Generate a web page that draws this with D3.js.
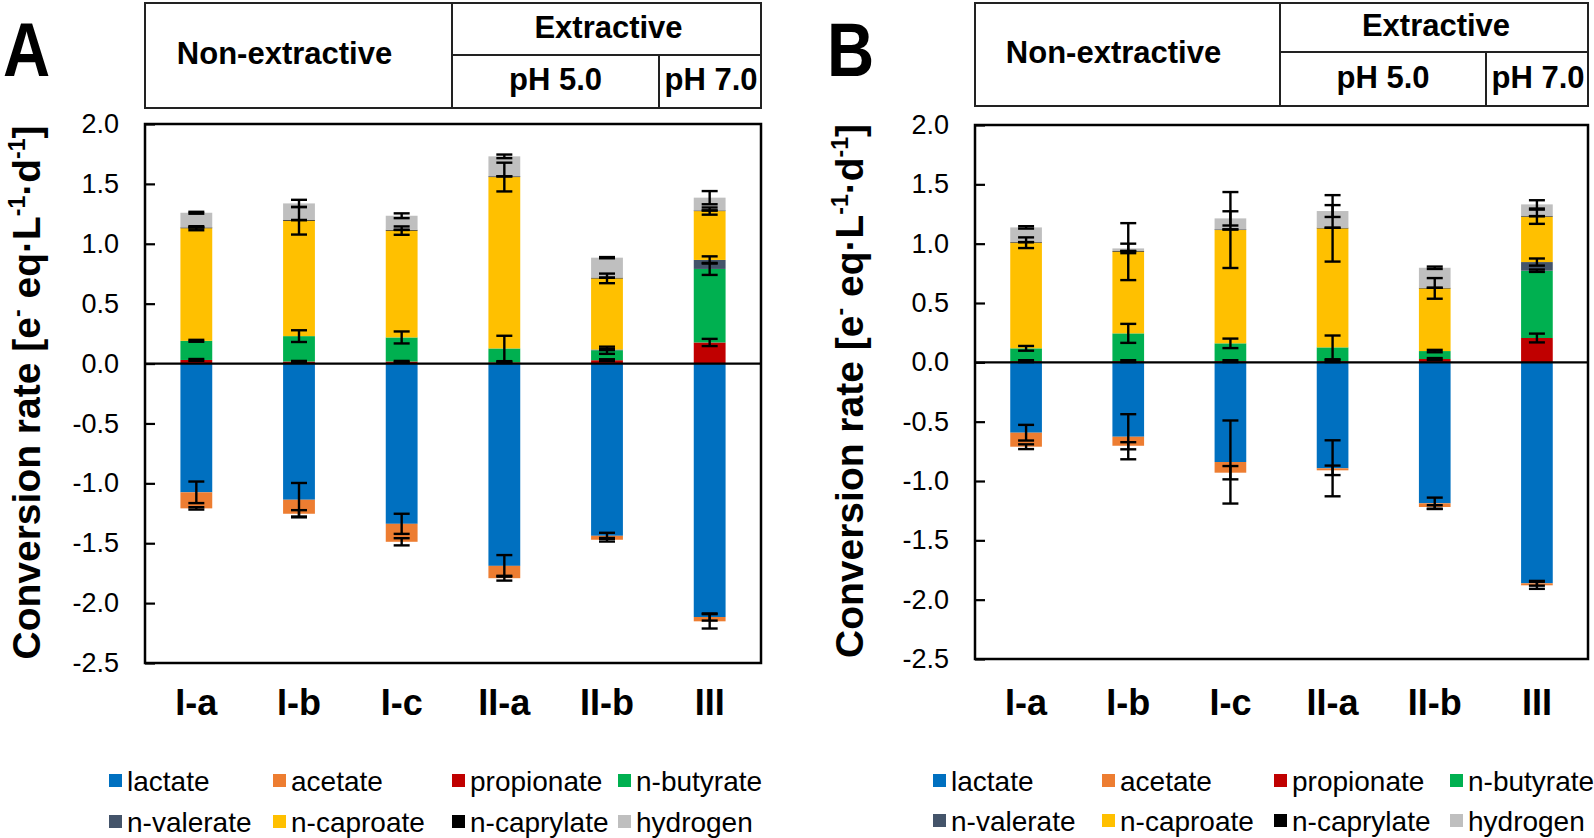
<!DOCTYPE html>
<html><head><meta charset="utf-8">
<script src="https://cdn.jsdelivr.net/npm/d3@7"></script>
<style>
html,body{margin:0;padding:0;background:#fff;}
svg{display:block;font-family:"Liberation Sans",Arial,sans-serif;}
</style></head>
<body>
<svg id="chart" width="1594" height="838"></svg>
<script>
// ---------- DATA ----------
const categories = ["I-a", "I-b", "I-c", "II-a", "II-b", "III"];
const seriesNames = ["lactate", "acetate", "propionate", "n-butyrate", "n-valerate", "n-caproate", "n-caprylate", "hydrogen"];
const seriesColors = ["#0070C0", "#ED7D31", "#C00000", "#00B050", "#44546A", "#FFC000", "#000000", "#BFBFBF"];
const yTickValues = [2.0, 1.5, 1.0, 0.5, 0.0, -0.5, -1.0, -1.5, -2.0, -2.5];
const yTickLabels = ["2.0", "1.5", "1.0", "0.5", "0.0", "-0.5", "-1.0", "-1.5", "-2.0", "-2.5"];
const headerLabels = ["Non-extractive", "Extractive", "pH 5.0", "pH 7.0"];

// Panel A values
const aLactate    = [-1.075, -1.137, -1.338, -1.689, -1.438, -2.116];
const aAcetate    = [-0.134, -0.117, -0.150, -0.103, -0.033, -0.036];
const aPropionate = [0.030, 0.017, 0.017, 0.010, 0.028, 0.176];
const aButyrate   = [0.160, 0.212, 0.201, 0.116, 0.083, 0.614];
const aValerate   = [0.000, 0.000, 0.000, 0.000, 0.006, 0.075];
const aCaproate   = [0.940, 0.963, 0.892, 1.431, 0.594, 0.408];
const aCaprylate  = [0.006, 0.006, 0.006, 0.006, 0.006, 0.005];
const aHydrogen   = [0.123, 0.139, 0.118, 0.167, 0.167, 0.107];
// Panel A error bars (±)
const aLactateErr    = [0.090, 0.140, 0.084, 0.090, 0.025, 0.030];
const aAcetateErr    = [0.010, 0.030, 0.030, 0.020, 0.015, 0.060];
const aPropionateErr = [0.008, 0.005, 0.005, 0.005, 0.008, 0.030];
const aButyrateErr   = [0.008, 0.049, 0.050, 0.106, 0.030, 0.050];
const aValerateErr   = [0.000, 0.000, 0.000, 0.000, 0.005, 0.030];
const aCaproateErr   = [0.017, 0.115, 0.035, 0.120, 0.040, 0.030];
const aCaprylateErr  = [0.000, 0.000, 0.000, 0.000, 0.000, 0.000];
const aHydrogenErr   = [0.008, 0.030, 0.020, 0.015, 0.005, 0.055];

// Panel B values
const bLactate    = [-0.593, -0.627, -0.840, -0.893, -1.188, -1.862];
const bAcetate    = [-0.118, -0.076, -0.090, -0.017, -0.031, -0.017];
const bPropionate = [0.010, 0.010, 0.010, 0.010, 0.028, 0.205];
const bButyrate   = [0.108, 0.234, 0.150, 0.116, 0.067, 0.567];
const bValerate   = [0.000, 0.000, 0.000, 0.000, 0.000, 0.073];
const bCaproate   = [0.890, 0.689, 0.955, 1.003, 0.528, 0.382];
const bCaprylate  = [0.005, 0.005, 0.005, 0.005, 0.005, 0.005];
const bHydrogen   = [0.124, 0.022, 0.093, 0.141, 0.169, 0.099];
// Panel B error bars (±)
const bLactateErr    = [0.066, 0.190, 0.350, 0.236, 0.048, 0.020];
const bAcetateErr    = [0.020, 0.030, 0.056, 0.040, 0.015, 0.030];
const bPropionateErr = [0.008, 0.008, 0.008, 0.008, 0.008, 0.037];
const bButyrateErr   = [0.020, 0.080, 0.040, 0.100, 0.010, 0.010];
const bValerateErr   = [0.000, 0.000, 0.000, 0.000, 0.000, 0.030];
const bCaproateErr   = [0.045, 0.240, 0.320, 0.280, 0.087, 0.060];
const bCaprylateErr  = [0.000, 0.000, 0.000, 0.000, 0.000, 0.000];
const bHydrogenErr   = [0.010, 0.040, 0.060, 0.050, 0.010, 0.035];

// ---------- DRAW ----------
const svg = d3.select("#chart");
svg.append("rect").attr("width", 1594).attr("height", 838).attr("fill", "#fff");

function drawPanel(cfg) {
  const g = svg.append("g");
  const values = cfg.values, errs = cfg.errors;
  const rows = categories.map((c, i) => {
    const r = {cat: c};
    seriesNames.forEach((s, k) => { r[s] = values[k][i]; });
    return r;
  });
  const stack = d3.stack().keys(seriesNames).offset(d3.stackOffsetDiverging)(rows);

  const x = d3.scaleBand().domain(categories).range([cfg.left, cfg.right])
    .paddingInner(0.69).paddingOuter(0.345);
  const y = d3.scaleLinear().domain([-2.5, 2.0]).range([cfg.bottom, cfg.top]);

  // bars
  stack.forEach((layer, k) => {
    g.append("g").attr("fill", seriesColors[k])
      .selectAll("rect").data(layer).join("rect")
      .attr("x", d => x(d.data.cat))
      .attr("width", x.bandwidth())
      .attr("y", d => y(Math.max(d[0], d[1])))
      .attr("height", d => Math.abs(y(d[0]) - y(d[1])));
  });

  // zero line
  g.append("line").attr("x1", cfg.left).attr("x2", cfg.right)
    .attr("y1", y(0)).attr("y2", y(0)).attr("stroke", "#000").attr("stroke-width", 2.2);

  // error bars
  const eg = g.append("g").attr("stroke", "#000").attr("stroke-width", 2.4);
  stack.forEach((layer, k) => {
    layer.forEach((d, i) => {
      const v = values[k][i], e = errs[k][i];
      if (v === 0) return;
      const end = v >= 0 ? d[1] : d[0];
      const cx = x(d.data.cat) + x.bandwidth() / 2;
      const y1 = y(end + e), y2 = y(end - e);
      eg.append("line").attr("x1", cx).attr("x2", cx).attr("y1", y1).attr("y2", y2);
      [y1, y2].forEach(yy => eg.append("line").attr("x1", cx - 8).attr("x2", cx + 8)
        .attr("y1", yy).attr("y2", yy));
    });
  });

  // plot frame
  g.append("rect").attr("x", cfg.left).attr("y", cfg.top)
    .attr("width", cfg.right - cfg.left).attr("height", cfg.bottom - cfg.top)
    .attr("fill", "none").attr("stroke", "#000").attr("stroke-width", 2.5);

  // y axis (inward ticks)
  const ya = g.append("g").attr("transform", `translate(${cfg.left},0)`)
    .call(d3.axisLeft(y).tickValues(yTickValues).tickSize(-10).tickPadding(26)
      .tickFormat((d, i) => yTickLabels[i]));
  ya.select(".domain").remove();
  ya.selectAll(".tick line").attr("stroke", "#000").attr("stroke-width", 2.2);
  ya.selectAll(".tick text").attr("font-size", 27).attr("fill", "#000")
    .attr("font-family", "Liberation Sans, Arial, sans-serif");

  // x axis labels
  const xa = g.append("g").attr("transform", `translate(0,${cfg.bottom})`)
    .call(d3.axisBottom(x).tickSize(0).tickPadding(cfg.xPad));
  xa.select(".domain").remove();
  xa.selectAll(".tick text").attr("font-size", 36).attr("font-weight", "bold").attr("fill", "#000")
    .attr("font-family", "Liberation Sans, Arial, sans-serif");

  // y label
  const yl = g.append("text")
    .attr("transform", `translate(${cfg.ylabelX},${(cfg.top + cfg.bottom) / 2 - 1}) rotate(-90)`)
    .attr("text-anchor", "middle").attr("font-size", 39).attr("font-weight", "bold").attr("fill", "#000");
  yl.append("tspan").text("Conversion rate [e");
  yl.append("tspan").attr("font-size", 23).attr("dy", -15).text("-");
  yl.append("tspan").attr("dy", 15).text(" eq·L");
  yl.append("tspan").attr("font-size", 23).attr("dy", -15).text("-1");
  yl.append("tspan").attr("dy", 15).text("·d");
  yl.append("tspan").attr("font-size", 23).attr("dy", -15).text("-1");
  yl.append("tspan").attr("dy", 15).text("]");

  // header table
  const h = cfg.header;
  const hg = g.append("g").attr("stroke", "#222").attr("stroke-width", 2).attr("fill", "none");
  hg.append("rect").attr("x", cfg.left).attr("y", h.top).attr("width", cfg.right - cfg.left).attr("height", h.bottom - h.top);
  hg.append("line").attr("x1", h.div1).attr("x2", h.div1).attr("y1", h.top).attr("y2", h.bottom);
  hg.append("line").attr("x1", h.div1).attr("x2", cfg.right).attr("y1", h.mid).attr("y2", h.mid);
  hg.append("line").attr("x1", h.div2).attr("x2", h.div2).attr("y1", h.mid).attr("y2", h.bottom);
  const ht = g.append("g").attr("font-weight", "bold").attr("font-size", 31).attr("fill", "#000")
    .attr("text-anchor", "middle").attr("dominant-baseline", "central");
  ht.append("text").attr("x", (cfg.left + h.div1) / 2 - 14).attr("y", (h.top + h.bottom) / 2 - 2).text(headerLabels[0]);
  ht.append("text").attr("x", (h.div1 + cfg.right) / 2 + 2).attr("y", (h.top + h.mid) / 2 - 2).text(headerLabels[1]);
  ht.append("text").attr("x", (h.div1 + h.div2) / 2).attr("y", (h.mid + h.bottom) / 2 - 2).text(headerLabels[2]);
  ht.append("text").attr("x", (h.div2 + cfg.right) / 2 + 1).attr("y", (h.mid + h.bottom) / 2 - 2).text(headerLabels[3]);

  // panel letter
  g.append("text").attr("x", cfg.letterX).attr("y", 76).attr("font-size", 76).attr("font-weight", "bold")
    .attr("fill", "#000").attr("transform", `translate(${cfg.letterX},0) scale(0.86,1) translate(${-cfg.letterX},0)`)
    .text(cfg.letter);

  // legend
  const lg = g.append("g").attr("font-size", 28).attr("fill", "#000");
  seriesNames.forEach((s, k) => {
    const col = k % 4, row = Math.floor(k / 4);
    const lx = cfg.legendX[col], ly = cfg.legendY[row];
    lg.append("rect").attr("x", lx).attr("y", ly - 7).attr("width", 13).attr("height", 13).attr("fill", seriesColors[k]);
    lg.append("text").attr("x", lx + 18).attr("y", ly).attr("dominant-baseline", "central").text(s);
  });
}

drawPanel({
  letter: "A", letterX: 3,
  left: 145, right: 761, top: 124, bottom: 663, xPad: 26, ylabelX: 40,
  values: [aLactate, aAcetate, aPropionate, aButyrate, aValerate, aCaproate, aCaprylate, aHydrogen],
  errors: [aLactateErr, aAcetateErr, aPropionateErr, aButyrateErr, aValerateErr, aCaproateErr, aCaprylateErr, aHydrogenErr],
  header: {top: 3, bottom: 108, mid: 55, div1: 452, div2: 659},
  legendX: [109, 273, 452, 618], legendY: [781, 822]
});
drawPanel({
  letter: "B", letterX: 827,
  left: 975, right: 1588, top: 125, bottom: 659, xPad: 30, ylabelX: 863,
  values: [bLactate, bAcetate, bPropionate, bButyrate, bValerate, bCaproate, bCaprylate, bHydrogen],
  errors: [bLactateErr, bAcetateErr, bPropionateErr, bButyrateErr, bValerateErr, bCaproateErr, bCaprylateErr, bHydrogenErr],
  header: {top: 3, bottom: 106, mid: 52, div1: 1280, div2: 1486},
  legendX: [933, 1102, 1274, 1450], legendY: [781, 821]
});
</script>
</body></html>
